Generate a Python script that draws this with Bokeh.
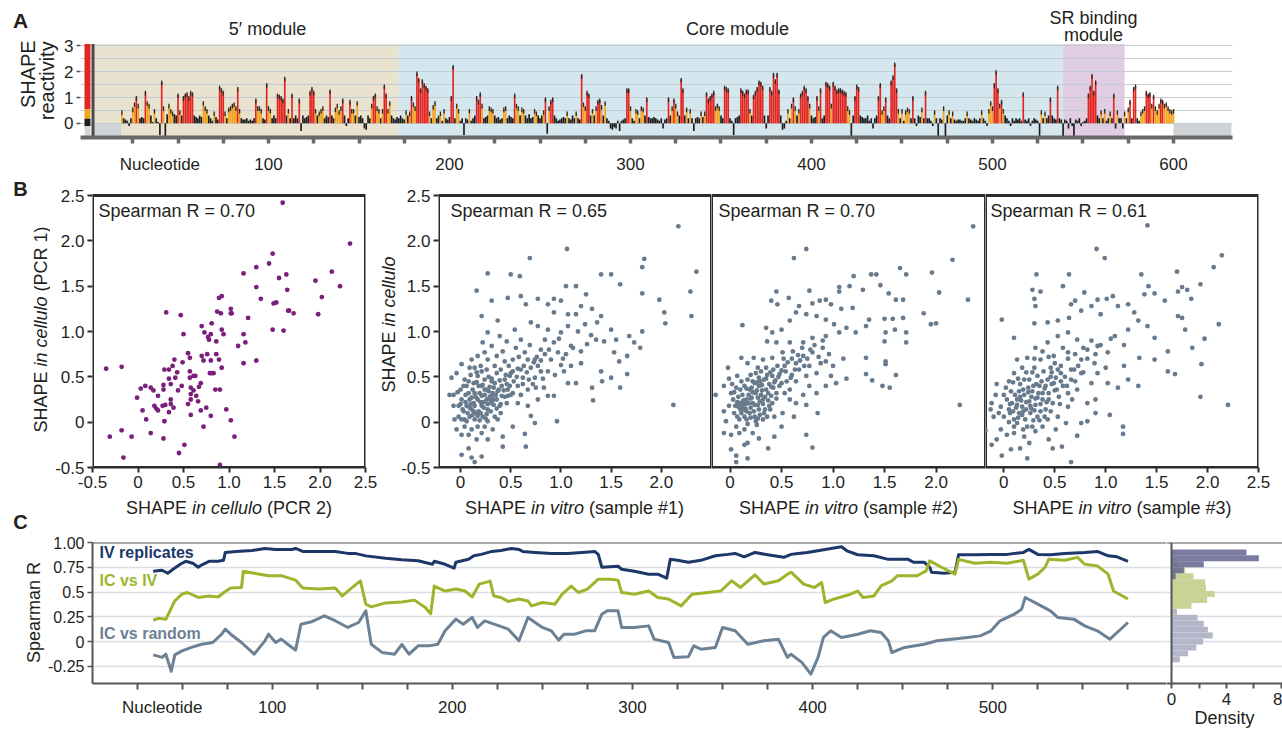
import math
from bokeh.plotting import figure
from bokeh.layouts import row, column
from bokeh.models import Label, Span, FixedTicker, Range1d
from bokeh.embed import file_html
from bokeh.resources import INLINE

# ======================= DATA =======================
# Panel A: SHAPE reactivity per nucleotide, starting at nucleotide 19
first_nt = 19
reactivity = [
    0.45, 0.2, 0.15, 0.1, -0.1, 0.2, 0.55, 0.75, 1.0, 0.7,
    0.2, 0.25, 0.2, 1.2, 0.8, 0.7, 0.3, 0.05, 0.5, 0.2,
    0.05, -0.45, 1.6, 0.6, -0.5, 0.35, 0.7, 0.5, 0.4, 0.35,
    0.3, 1.1, 0.45, 0.3, 1.0, 1.1, 1.15, 1.0, 1.2, 1.15,
    0.3, 0.25, 0.2, 0.3, 0.25, 0.8, 0.6, 0.5, 0.3, 0.2,
    0.1, 0.4, 0.25, 0.15, 1.4, 1.3, 1.2, 0.4, 0.2, 0.55,
    0.6, 0.7, 0.75, 0.6, 1.35, 0.5, 0.2, 0.15, 0.15, 0.2,
    0.1, 0.15, 0.1, 0.2, 0.9, 0.6, 0.6, 0.5, 0.2, 0.15,
    1.5, 0.6, 0.5, 0.2, 0.3, 0.2, 1.1, 1.05, 1.0, 0.9,
    1.75, 0.3, 0.5, 0.2, 1.1, 0.2, 0.3, 0.2, 0.9, -0.3,
    0.3, 0.2, 0.25, 0.3, 1.2, 1.35, 1.2, 0.5, 0.3, 0.4,
    0.5, 0.6, 0.2, 0.3, 0.25, 1.25, 0.3, 0.2, 0.55, 0.7,
    0.45, 0.6, 0.9, 0.3, -0.1, 0.2, 0.85, 0.5, 0.5, 0.3,
    0.8, 0.25, 0.3, 0.2, -0.2, -0.25, 0.3, 0.2, 0.7, 1.0,
    1.1, 0.6, 0.5, 0.2, 0.5, 1.45, 1.1, 0.5, 0.8, 0.3,
    0.2, 0.15, 0.25, 0.2, 0.3, 0.2, 0.15, 0.45, 0.3, 0.4,
    1.0, 0.75, 0.6, 1.95, 1.7, 1.3, 1.65, 1.5, 1.4, 1.3,
    0.4, 0.2, 0.65, 0.8, 0.2, 0.3, 0.4, 0.1, 0.5, 0.2,
    0.15, 0.25, 1.0, 2.2, 0.2, 0.7, 0.5, 0.1, 0.2, -0.45,
    0.2, 0.15, 0.5, 0.1, 0.2, 0.3, 1.0, 0.85, 1.15, 0.7,
    0.2, 0.25, 0.3, 0.6, 0.55, 0.5, 0.3, 0.2, 0.25, 0.15,
    0.2, 0.55, 0.6, 0.2, 0.3, 0.25, 0.2, 1.1, 0.7, 0.6,
    0.3, 0.55, 0.5, 0.3, 0.2, 0.35, 0.2, 0.25, 0.5, 0.4,
    0.3, 0.2, 0.3, 0.45, 0.95, -0.4, 0.6, 0.85, 0.95, 0.3,
    0.2, 0.1, 0.15, 0.2, 0.25, 0.2, 0.4, 0.2, 0.15, 0.3,
    0.2, 0.4, 0.2, 0.15, 1.85, 0.75, 0.6, 1.2, 1.1, 0.3,
    0.5, 0.3, 0.6, 0.85, 0.9, 0.65, 0.3, 0.8, 0.2, 0.1,
    -0.2, -0.25, -0.15, -0.2, 0.1, -0.3, 0.1, 0.15, 0.2, 1.3,
    1.3, 0.6, 0.2, 0.1, 0.5, 0.45, 0.2, 0.6, 0.55, 0.3,
    0.95, 0.25, 0.2, 0.2, 0.25, 0.2, 0.15, 0.1, 0.2, -0.2,
    0.15, 0.2, 0.95, 0.3, 0.6, 0.9, 0.7, 0.4, 0.3, 1.7,
    1.3, 0.3, 0.55, 0.2, 0.5, 0.2, -0.3, 0.2, 0.25, 0.2,
    0.4, 0.25, 0.4, 1.15, 0.9, 1.0, 1.1, 1.2, 0.6, 0.7,
    0.6, 0.3, 0.2, 1.4, 1.35, 1.3, 0.2, 0.1, -0.45, 0.2,
    0.25, 0.3, 1.3, 1.2, 1.1, 1.25, 1.25, 0.5, 0.3, 1.05,
    1.2, 1.35, 1.6, 1.55, 1.4, 0.3, -0.2, 0.3, 1.35, 1.2,
    1.9, 1.65, 1.9, 1.25, 0.3, -0.25, -0.2, 0.1, 0.5, 0.2,
    0.7, 0.95, 0.6, 0.3, 0.5, 1.1, 1.2, 1.4, 1.3, 1.0,
    0.7, 0.3, 0.2, 0.25, 1.0, 0.6, 1.3, 0.2, 0.3, 1.55,
    1.5, 1.4, 0.7, 1.55, 1.4, 1.25, 1.3, 1.3, 1.25, 1.2,
    1.15, 0.6, 0.45, -0.5, 0.3, 1.0, 1.45, 1.35, 0.3, 0.25,
    0.2, 0.2, 0.3, 0.1, 0.2, -0.2, 0.2, 0.3, 1.0, 1.5,
    0.45, 0.6, 0.95, 0.3, 0.2, 1.6, 1.8, 2.3, 1.3, 0.5,
    0.2, 0.5, 0.1, 0.45, 0.55, 0.5, 0.2, 1.0, 0.2, -0.1,
    0.3, 0.25, 0.55, 0.2, 1.2, 0.2, 0.2, 0.1, -0.1, 0.45,
    0.2, -0.5, 0.2, 0.15, 0.6, -0.5, 0.3, 0.45, 0.2, 0.4,
    0.15, 0.1, 0.15, 0.15, 0.1, 0.1, 0.2, 0.4, 0.2, 0.15,
    0.1, 0.2, 0.15, 0.1, 0.2, 0.45, 0.2, 0.1, -0.1, 0.5,
    0.8, 0.6, 1.5, 2.0, 1.3, 0.7, 0.85, 0.5, 0.3, 0.2,
    0.1, -0.1, 0.2, 0.1, 0.2, 0.15, 0.2, 0.1, 1.15, 0.15,
    0.1, 0.2, -0.1, 0.1, 0.2, 0.15, 0.1, -0.5, 0.45, 0.2,
    0.4, 0.2, 0.3, 0.95, 0.3, 0.2, 0.15, 1.4, 0.2, 0.15,
    -0.5, 0.15, 0.1, -0.2, 0.2, -0.1, -0.5, 0.15, 0.1, 0.2,
    -0.1, 0.05, 0.1, 0.2, 1.1, 1.4, 1.85, 1.2, 1.6, 0.3,
    0.2, 0.45, 0.2, 0.5, 0.1, 0.2, 0.4, 0.2, 1.1, -0.2,
    0.45, 0.2, 0.2, -0.2, 0.4, 0.2, 0.55, 0.85, 0.2, 1.35,
    1.45, 0.2, 0.1, 0.4, 0.5, 0.6, 1.2, 1.1, 1.15, 0.7,
    1.05, 0.6, 0.45, 0.7, 0.9, 0.85, 0.7, 0.75, 0.6, 0.5,
    0.45, 0.5,
]
module_names = ["5′ module", "Core module", "SR binding module"]
module_first = [3.5, 172, 539]
module_last = [172, 539, 573]
unmapped_first = [3.5, 600]
unmapped_last = [18.5, 632]
reactive_high = 0.85
reactive_mid = 0.4
a_tick_labels = {40: "Nucleotide", 100: "100", 200: "200", 300: "300", 400: "400", 500: "500", 600: "600"}

# Panel B: scatter pairs (x, y)
pcr_pairs = [(-0.35,0.59),(-0.18,0.61),(-0.31,-0.16),(-0.18,-0.09),(-0.16,-0.39),(-0.07,-0.16),(-0.01,0.27),(0.03,0.37),(0.05,0.13),(0.08,0.40),(0.09,0.03),(0.14,0.38),(0.14,-0.12),(0.17,0.35),(0.18,0.18),(0.20,0.15),(0.22,0.13),(0.22,0.29),(0.27,0.18),(0.28,-0.18),(0.28,0.41),(0.28,0.36),(0.29,0.58),(0.29,0.01),(0.30,0.19),(0.31,1.21),(0.34,0.58),(0.34,0.48),(0.34,0.11),(0.36,0.20),(0.36,0.25),(0.36,0.42),(0.38,0.62),(0.39,0.16),(0.41,0.49),(0.40,0.69),(0.43,0.55),(0.44,0.35),(0.45,-0.34),(0.47,1.18),(0.48,0.40),(0.49,0.66),(0.50,0.97),(0.51,-0.25),(0.55,0.76),(0.55,0.20),(0.57,0.71),(0.57,0.49),(0.57,0.56),(0.58,0.31),(0.58,0.08),(0.58,0.38),(0.58,0.25),(0.61,0.35),(0.61,0.51),(0.63,0.51),(0.64,0.29),(0.66,0.23),(0.67,0.39),(0.69,0.43),(0.69,0.13),(0.70,1.06),(0.70,0.73),(0.72,-0.05),(0.72,0.68),(0.73,0.99),(0.75,0.16),(0.76,0.75),(0.77,0.94),(0.78,0.91),(0.79,0.54),(0.80,0.68),(0.80,0.07),(0.80,0.97),(0.81,1.09),(0.81,0.54),(0.83,0.54),(0.85,0.36),(0.86,0.75),(0.86,0.89),(0.87,1.22),(0.89,1.37),(0.89,0.69),(0.90,0.36),(0.90,-0.47),(0.91,1.20),(0.92,1.39),(0.92,1.02),(0.92,0.60),(0.94,0.97),(0.97,0.14),(1.02,1.25),(1.02,1.20),(1.02,0.02),(1.03,1.20),(1.06,-0.16),(1.10,0.84),(1.16,0.97),(1.16,0.65),(1.16,1.64),(1.18,0.88),(1.21,1.15),(1.30,1.71),(1.30,1.49),(1.30,0.68),(1.35,1.36),(1.44,1.75),(1.48,1.86),(1.48,1.02),(1.49,1.31),(1.52,1.32),(1.55,1.59),(1.59,2.42),(1.60,1.01),(1.63,1.63),(1.64,1.46),(1.65,1.23),(1.66,1.23),(1.71,1.20),(1.95,1.56),(1.98,1.19),(2.02,1.38),(2.13,1.66),(2.22,1.50),(2.33,1.97)]

vitro1_pairs = [(1.06,1.91),(0.69,1.81),(2.17,2.16),(2.35,1.66),(1.83,1.80),(1.81,1.71),(1.50,1.63),(1.59,1.52),(2.29,1.44),(2.30,1.17),(1.98,1.35),(2.03,1.21),(2.04,1.09),(2.12,0.19),(1.81,1.42),(1.81,1.00),(1.79,0.82),(0.27,1.64),(0.50,1.63),(0.59,1.61),(0.16,1.45),(0.31,1.34),(0.47,1.37),(0.60,1.39),(0.65,1.30),(0.77,1.36),(0.87,1.30),(0.93,1.36),(1.00,1.34),(1.05,1.50),(1.15,1.50),(1.25,1.41),(0.93,1.21),(1.07,1.19),(1.15,1.19),(1.20,1.28),(1.31,1.25),(1.36,1.10),(1.40,1.17),(1.40,1.63),(1.24,1.08),(1.07,1.06),(1.17,1.00),(1.00,0.99),(0.87,1.02),(0.70,1.10),(0.77,1.06),(0.54,1.02),(0.37,1.12),(0.21,1.17),(0.27,0.99),(0.39,0.95),(0.22,0.88),(0.42,0.78),(0.55,0.82),(0.69,0.85),(0.80,0.80),(0.93,0.88),(0.97,0.77),(1.10,0.84),(1.26,0.86),(1.35,0.91),(1.43,0.89),(1.53,0.77),(1.58,0.67),(1.66,0.73),(1.40,0.56),(1.50,0.49),(1.59,0.38),(1.66,0.53),(1.31,0.38),(1.32,0.24),(1.41,0.45),(1.07,0.43),(1.15,0.43),(1.00,0.63),(0.87,0.56),(0.77,0.62),(0.67,0.69),(0.57,0.59),(0.50,0.54),(0.62,0.49),(0.72,0.42),(0.83,0.38),(0.93,0.29),(0.87,0.29),(0.96,0.01),(0.77,0.25),(0.67,0.18),(0.70,0.07),(0.74,-0.01),(0.64,-0.13),(0.65,-0.27),(0.42,-0.16),(0.42,-0.27),(0.52,-0.05),(0.57,0.21),(0.47,0.29),(0.37,0.34),(0.31,0.45),(0.21,0.56),(0.11,0.69),(0.09,0.60),(0.01,0.64),(-0.04,0.54),(-0.09,0.49),(-0.11,0.30),(-0.07,0.18),(-0.06,0.03),(-0.04,-0.08),(0.01,-0.14),(0.08,-0.14),(0.01,-0.36),(0.11,-0.39),(0.14,-0.44),(0.08,-0.29),(0.16,-0.19),(0.21,-0.38),(0.27,-0.19),(0.21,-0.12),(0.24,-0.05),(0.27,0.01),(-0.02,0.06),(0.03,0.12),(0.06,0.18),(0.04,0.03),(0.09,0.06),(0.11,0.14),(0.13,0.21),(0.14,0.03),(0.16,0.10),(0.17,0.25),(0.19,0.32),(0.21,0.18),(0.22,0.06),(0.24,0.36),(0.26,0.25),(0.27,0.14),(0.29,0.39),(0.31,0.21),(0.32,0.32),(0.34,0.06),(0.36,0.25),(0.39,0.18),(0.41,0.40),(0.44,0.47),(0.46,0.21),(0.49,0.40),(0.52,0.32),(0.06,0.40),(0.08,0.32),(0.01,0.25),(0.04,0.47),(0.13,0.43),(0.17,0.51),(0.24,0.47),(0.36,0.54),(0.14,0.60),(0.27,0.69),(0.17,-0.05),(0.11,-0.08),(0.32,-0.08),(0.37,0.03),(0.04,-0.05),(-0.02,0.18),(-0.07,0.30),(0.34,0.43),(0.09,0.25),(0.14,0.32),(0.21,0.29),(0.06,0.01),(0.01,0.03),(0.21,0.40),(0.31,0.29),(0.14,0.18),(0.41,0.29),(0.49,0.51),(0.57,0.40),(0.60,0.30),(0.67,0.36),(0.74,0.49),(0.80,0.56),(0.64,0.77),(0.52,0.69),(0.44,0.67),(0.36,0.73),(0.31,0.84),(0.24,0.77),(0.17,0.73),(0.46,0.89),(0.60,0.91),(0.84,0.91),(0.90,0.69),(1.05,0.75),(1.20,0.65),(1.20,0.78),(1.30,0.96),(1.50,1.02),(1.55,0.91),(1.68,0.95),(1.73,0.88),(1.12,0.82),(1.03,0.56),(0.74,0.69),(0.12,0.08),(0.18,0.12),(0.23,0.16),(0.26,0.09),(0.30,0.12),(0.33,0.19),(0.20,0.22),(0.15,0.28),(0.24,0.30),(0.28,0.34),(0.10,0.20),(0.07,0.10),(0.19,0.02),(0.25,0.04),(0.30,0.24),(0.35,0.30),(0.38,0.36),(0.22,0.41),(0.12,0.36),(0.05,0.30),(0.28,0.50),(0.40,0.10),(0.44,0.28),(0.47,0.36),(0.33,0.38),(0.16,0.44),(0.10,0.52),(0.26,0.58),(0.02,0.14),(0.00,0.36),
    (0.05,0.22),(0.09,0.16),(0.13,0.12),(0.17,0.07),(0.20,0.10),(0.23,0.22),(0.27,0.20),(0.29,0.28),(0.33,0.25),(0.36,0.15),(0.40,0.20),(0.43,0.35),(0.46,0.42),(0.50,0.30),(0.53,0.45),(0.56,0.50),(0.60,0.58),(0.63,0.62),(0.66,0.55),(0.70,0.60),(0.73,0.66),(0.76,0.72),(0.80,0.68),(0.84,0.75),(0.88,0.80),(0.58,0.72),(0.48,0.62),(0.40,0.58),(0.34,0.62),(0.20,0.62),(0.16,0.55),(0.08,0.45),(0.03,0.40),(-0.03,0.33),(0.00,0.20),(0.11,0.27),(0.18,0.40),(0.26,0.36),(0.31,0.48),(0.39,0.46),(0.45,0.52),(0.52,0.56),(0.62,0.42),(0.68,0.47),(0.75,0.38),(0.82,0.48),(0.94,0.52),(1.02,0.70),(1.10,0.62),(0.98,0.92)]

vitro2_pairs = [(0.74,1.91),(0.62,1.81),(2.36,2.16),(2.16,1.79),(1.96,1.65),(1.65,1.70),(1.71,1.63),(1.37,1.63),(1.42,1.63),(1.20,1.61),(2.03,1.43),(2.31,1.35),(1.88,1.20),(1.95,1.08),(2.00,1.09),(2.23,0.19),(1.29,1.46),(1.46,1.51),(1.54,1.42),(1.61,1.35),(1.68,1.35),(1.06,1.49),(1.16,1.50),(1.06,1.44),(0.93,1.35),(0.87,1.34),(0.77,1.45),(0.57,1.37),(0.45,1.44),(0.40,1.34),(0.46,1.30),(0.67,1.28),(0.80,1.31),(0.98,1.30),(1.08,1.25),(1.19,1.26),(1.35,1.13),(1.50,1.14),(1.58,1.14),(1.68,1.15),(1.71,0.99),(1.60,1.02),(1.51,0.99),(1.50,0.89),(1.71,0.88),(1.32,1.06),(1.22,0.99),(1.13,1.04),(1.01,1.08),(0.93,1.13),(0.84,1.17),(0.74,1.19),(0.64,1.21),(0.58,1.12),(0.50,1.02),(0.41,0.99),(0.35,1.04),(0.12,1.07),(0.36,0.89),(0.45,0.88),(0.58,0.88),(0.71,0.88),(0.80,0.93),(0.93,0.95),(1.06,0.99),(0.90,0.82),(0.80,0.77),(0.71,0.73),(0.61,0.78),(0.51,0.77),(0.41,0.71),(0.32,0.69),(0.23,0.71),(0.11,0.71),(0.17,0.65),(1.32,0.71),(1.51,0.67),(1.51,0.64),(1.61,0.52),(0.98,0.51),(1.03,0.43),(0.93,0.40),(1.13,0.48),(1.32,0.53),(1.38,0.46),(1.48,0.40),(1.55,0.38),(0.84,0.54),(0.74,0.51),(0.64,0.45),(0.77,0.40),(0.71,0.30),(0.84,0.32),(0.74,0.19),(0.85,0.10),(0.64,0.21),(0.62,0.06),(0.58,0.36),(0.54,0.56),(0.50,0.43),(0.45,0.32),(0.41,0.21),(0.51,0.10),(0.50,-0.05),(0.43,-0.16),(0.37,-0.29),(0.74,-0.14),(0.80,-0.28),(0.28,-0.18),(0.22,-0.12),(0.17,-0.23),(0.14,-0.25),(0.17,-0.40),(0.06,-0.37),(0.06,-0.44),(0.01,-0.30),(0.01,-0.14),(-0.06,-0.12),(-0.04,0.01),(-0.06,0.12),(-0.14,0.30),(-0.06,0.40),(-0.01,0.48),(-0.02,0.60),(0.07,0.51),(0.06,0.38),(0.03,0.25),(0.04,0.10),(0.09,0.03),(0.14,-0.08),(0.09,-0.12),(0.12,0.18),(0.16,0.25),(0.19,0.10),(0.22,0.21),(0.25,0.32),(0.28,0.14),(0.32,0.25),(0.35,0.36),(0.38,0.18),(0.24,0.06),(0.32,0.03),(0.16,0.03),(0.09,0.21),(0.19,0.36),(0.24,0.43),(0.28,0.40),(0.33,0.47),(0.38,0.42),(0.41,0.51),(0.14,0.40),(0.17,0.47),(0.25,0.54),(0.35,0.60),(0.46,0.62),(0.12,0.30),(0.20,0.16),(0.27,0.27),(0.32,0.20),(0.40,0.29),(0.11,0.10),(0.17,-0.02),(0.25,0.01),(0.36,0.06),(0.43,0.06),(0.06,-0.05),(-0.01,0.18),(0.01,0.32),(0.28,0.49),(0.53,0.32),(0.58,0.25),(0.59,0.49),(0.67,0.58),(0.64,0.65),(0.77,0.62),(0.88,0.65),(0.93,0.67),(0.10,0.14),(0.15,0.20),(0.20,0.26),(0.23,0.12),(0.27,0.19),(0.30,0.30),(0.18,0.30),(0.13,0.24),(0.21,0.38),(0.26,0.44),(0.08,0.28),(0.05,0.18),(0.14,0.06),(0.29,0.08),(0.34,0.14),(0.37,0.24),(0.42,0.38),(0.30,0.56),(0.20,0.52),(0.11,0.45),(0.02,0.42),(0.44,0.46),(0.48,0.53),(0.39,0.55),(0.16,0.12),(0.22,0.33),(0.31,0.41),(0.07,0.06),(0.26,-0.03),(0.35,0.48),
    (0.08,0.17),(0.12,0.22),(0.15,0.15),(0.18,0.21),(0.21,0.27),(0.24,0.19),(0.26,0.35),(0.29,0.23),(0.31,0.35),(0.34,0.28),(0.37,0.32),(0.40,0.39),(0.43,0.44),(0.47,0.50),(0.50,0.57),(0.53,0.62),(0.56,0.66),(0.60,0.70),(0.63,0.58),(0.68,0.68),(0.72,0.62),(0.75,0.70),(0.78,0.80),(0.82,0.85),(0.86,0.72),(0.60,0.52),(0.55,0.45),(0.48,0.40),(0.45,0.26),(0.39,0.14),(0.33,0.10),(0.27,0.04),(0.20,0.05),(0.13,0.14),(0.07,0.22),(0.04,0.33),(0.10,0.36),(0.16,0.37),(0.22,0.45),(0.29,0.45),(0.36,0.52),(0.42,0.58),(0.52,0.70),(0.66,0.74),(0.70,0.82),(0.90,0.90),(0.96,0.75),(1.00,0.62),(1.10,0.70),(0.27,0.60)]

vitro3_pairs = [(1.41,2.17),(0.91,1.91),(0.99,1.81),(2.14,1.84),(2.06,1.71),(0.32,1.63),(0.64,1.63),(1.35,1.63),(1.70,1.66),(1.93,1.52),(2.11,1.08),(1.97,0.92),(2.20,0.19),(1.93,0.28),(1.94,0.64),(1.85,0.82),(1.42,1.50),(1.75,1.49),(1.71,1.44),(1.80,1.46),(1.84,1.36),(1.58,1.34),(1.48,1.42),(1.38,1.41),(1.07,1.39),(1.01,1.36),(0.92,1.35),(0.79,1.43),(0.70,1.34),(0.66,1.30),(0.58,1.50),(0.36,1.44),(0.28,1.46),(0.30,1.36),(0.31,1.28),(-0.02,1.13),(0.10,0.93),(0.30,1.09),(0.43,1.10),(0.53,1.12),(0.64,1.15),(0.76,1.23),(0.86,1.28),(0.95,1.19),(1.12,1.28),(1.22,1.30),(1.28,1.21),(1.32,1.12),(1.41,1.06),(1.48,0.93),(1.61,0.78),(1.68,0.53),(1.61,0.56),(1.71,1.17),(1.78,1.02),(1.75,1.15),(1.48,0.69),(1.33,0.71),(1.32,0.40),(1.18,0.62),(1.22,0.47),(1.12,0.38),(1.02,0.43),(1.18,0.85),(1.09,0.95),(1.22,1.02),(1.02,0.77),(0.92,0.84),(0.82,0.80),(0.72,0.91),(0.63,0.99),(0.53,0.95),(0.43,0.88),(0.31,0.82),(0.23,0.71),(0.13,0.69),(0.36,0.69),(0.49,0.73),(0.63,0.77),(0.76,0.69),(0.89,0.65),(0.92,0.54),(0.86,0.43),(0.76,0.54),(0.66,0.47),(0.56,0.54),(0.46,0.60),(0.63,0.32),(0.72,0.36),(0.82,0.21),(0.90,0.25),(1.04,0.08),(0.90,0.10),(0.82,0.01),(0.76,-0.01),(0.72,-0.15),(0.57,-0.27),(0.48,-0.29),(0.66,-0.44),(0.44,-0.19),(0.51,-0.08),(0.61,-0.01),(1.17,-0.05),(1.17,-0.13),(0.25,-0.23),(0.23,-0.40),(0.16,-0.29),(0.07,-0.30),(-0.02,-0.37),(-0.12,-0.25),(-0.07,-0.19),(-0.18,-0.09),(-0.03,-0.08),(0.03,-0.14),(0.10,-0.12),(0.20,-0.16),(0.31,-0.10),(0.38,-0.05),(0.43,0.03),(0.53,0.06),(0.63,0.17),(-0.12,0.21),(-0.13,0.14),(-0.08,0.30),(-0.07,0.42),(0.00,0.06),(0.05,0.14),(0.08,0.21),(0.10,0.03),(0.13,0.25),(0.15,0.10),(0.18,0.17),(0.20,0.30),(0.21,0.03),(0.25,0.23),(0.26,0.10),(0.28,0.34),(0.31,0.19),(0.33,0.06),(0.35,0.40),(0.38,0.25),(0.41,0.14),(0.44,0.32),(0.48,0.21),(0.49,0.43),(0.54,0.28),(0.58,0.40),(0.43,0.47),(0.33,0.51),(0.25,0.47),(0.16,0.42),(0.07,0.34),(0.03,0.25),(0.10,0.54),(0.18,0.60),(0.30,0.60),(0.39,0.56),(0.51,0.49),(0.67,0.25),(0.69,0.58),(0.13,-0.01),(0.23,-0.05),(-0.03,0.17),(-0.10,0.06),(0.12,0.16),(0.17,0.24),(0.22,0.14),(0.27,0.28),(0.30,0.13),(0.36,0.20),(0.19,0.36),(0.24,0.38),(0.11,0.30),(0.06,0.10),(0.14,0.05),(0.29,0.02),(0.34,0.32),(0.40,0.37),(0.46,0.12),(0.20,0.47),(0.28,0.55),(0.37,0.45),(0.09,0.44),(0.02,0.38),(0.15,0.34),(0.32,0.42),(0.42,0.22),(0.52,0.36),(0.05,0.00),(0.18,0.08),(0.26,0.18),(0.31,0.26),(0.47,0.55),(0.56,0.45),
    (0.06,0.20),(0.09,0.12),(0.13,0.19),(0.16,0.28),(0.19,0.12),(0.22,0.22),(0.24,0.33),(0.27,0.15),(0.29,0.40),(0.33,0.27),(0.36,0.12),(0.38,0.32),(0.41,0.40),(0.44,0.25),(0.46,0.50),(0.50,0.35),(0.53,0.58),(0.56,0.62),(0.60,0.50),(0.63,0.70),(0.66,0.58),(0.70,0.75),(0.73,0.62),(0.78,0.82),(0.82,0.70),(0.86,0.90),(0.90,0.75),(0.95,0.85),(1.00,0.60),(1.05,0.92),(0.58,0.82),(0.50,0.65),(0.44,0.72),(0.38,0.78),(0.30,0.70),(0.22,0.55),(0.14,0.48),(0.05,0.45),(0.00,0.30),(-0.05,0.10),(0.10,-0.05),(0.19,-0.08),(0.28,-0.05),(0.35,0.02),(0.40,0.06),(0.47,0.42),(0.55,0.20),(0.62,0.40),(0.70,0.45),(0.78,0.55)]

spearman_b = ["0.70", "0.65", "0.70", "0.61"]
b_tick_values = [-0.5, 0, 0.5, 1, 1.5, 2, 2.5]
b_tick_labels = ["-0.5", "0", "0.5", "1.0", "1.5", "2.0", "2.5"]

# Panel C: windowed Spearman R along the sequence (nucleotide, R)
iv_replicates = [(34,.71),(39,.72),(42,.69),(45,.73),(49,.78),(52,.81),(56,.79),(59,.75),(61,.775),(65,.81),(70,.81),(73,.82),(74,.90),(80,.91),(89,.92),(96,.94),(102,.93),(111,.93),(113,.94),(117,.91),(126,.91),(135,.91),(142,.89),(146,.89),(152,.865),(163,.84),(172,.825),(181,.815),(189,.78),(190,.81),(196,.78),(201,.74),(202,.80),(209,.83),(212,.866),(216,.88),(222,.91),(227,.92),(233,.94),(237,.93),(239,.91),(246,.90),(255,.89),(264,.89),(272,.90),(279,.91),(281,.88),(283,.75),(292,.76),(294,.73),(301,.71),(309,.68),(314,.68),(319,.64),(321,.83),(325,.82),(331,.80),(338,.82),(346,.866),(353,.88),(357,.89),(362,.855),(368,.90),(375,.876),(384,.85),(388,.88),(392,.89),(397,.90),(407,.93),(416,.957),(419,.916),(425,.876),(434,.866),(442,.83),(453,.83),(456,.80),(462,.80),(465,.75),(466,.70),(473,.69),(479,.70),(481,.876),(490,.876),(499,.88),(508,.88),(517,.90),(520,.93),(525,.88),(532,.876),(540,.89),(551,.90),(558,.91),(564,.866),(569,.855),(575,.81)]
ic_vs_iv = [(34,.215),(37,.235),(41,.225),(46,.41),(50,.48),(53,.495),(59,.445),(65,.46),(70,.45),(74,.505),(77,.54),(83,.546),(84,.71),(90,.69),(98,.665),(105,.665),(113,.62),(117,.54),(126,.53),(135,.54),(139,.46),(144,.54),(149,.613),(152,.377),(155,.35),(163,.39),(172,.40),(179,.418),(185,.344),(188,.28),(190,.56),(196,.51),(202,.53),(207,.51),(211,.45),(215,.58),(221,.61),(223,.46),(227,.445),(231,.405),(237,.43),(242,.41),(244,.36),(250,.394),(257,.377),(261,.478),(266,.56),(270,.495),(275,.53),(281,.63),(287,.63),(292,.62),(294,.495),(301,.478),(309,.51),(314,.445),(320,.43),(327,.36),(333,.478),(342,.495),(349,.51),(355,.613),(360,.546),(368,.674),(373,.58),(381,.613),(386,.68),(388,.70),(395,.58),(401,.546),(405,.596),(407,.394),(412,.43),(421,.478),(425,.51),(428,.445),(434,.46),(438,.563),(444,.613),(447,.664),(458,.664),(463,.714),(465,.815),(471,.755),(479,.68),(481,.83),(490,.79),(499,.80),(508,.79),(517,.82),(520,.63),(525,.68),(529,.75),(531,.83),(540,.82),(547,.85),(551,.78),(558,.764),(564,.68),(567,.51),(575,.43)]
ic_vs_random = [(34,-.135),(39,-.16),(41,-.128),(44,-.30),(46,-.135),(50,-.094),(56,-.054),(61,-.027),(67,-.01),(72,.074),(74,.125),(77,.074),(83,-.01),(90,-.128),(96,.007),(98,.074),(102,-.01),(105,.024),(111,-.06),(113,-.087),(116,.175),(122,.20),(129,.26),(135,.21),(142,.142),(148,.192),(152,.31),(155,-.027),(161,-.11),(168,-.128),(172,-.03),(176,-.128),(181,-.044),(187,-.044),(192,-.027),(196,.108),(202,.226),(206,.175),(211,.243),(214,.142),(218,.209),(226,.158),(231,.125),(237,.007),(242,.243),(250,.142),(255,.108),(259,.014),(262,.074),(268,.074),(274,.108),(279,.108),(283,.276),(286,.31),(292,.31),(294,.142),(301,.142),(309,.158),(312,.024),(320,-.01),(323,-.161),(331,-.155),(334,-.044),(338,-.077),(346,-.06),(350,.142),(357,.108),(364,-.027),(373,.007),(381,.024),(386,-.161),(388,-.128),(394,-.211),(399,-.33),(403,-.161),(406,.041),(410,.108),(416,.041),(425,.074),(432,.108),(438,.091),(442,.007),(444,-.111),(451,-.06),(462,-.027),(469,.007),(477,.024),(486,.041),(493,.057),(499,.108),(504,.209),(512,.276),(516,.327),(518,.445),(525,.377),(532,.31),(536,.243),(545,.226),(551,.158),(558,.108),(565,.024),(569,.091),(575,.192)]
series_names = ["IV replicates", "IC vs IV", "IC vs random"]
c_tick_labels = {39: "Nucleotide", 100: "100", 200: "200", 300: "300", 400: "400", 500: "500"}
c_y_ticks = [-0.25, 0, 0.25, 0.5, 0.75, 1.0]
c_y_labels = ["-0.25", "0", "0.25", "0.5", "0.75", "1.00"]

# Panel C side histogram (Spearman R bin centres, densities)
hist_bins = [-0.18, -0.12, -0.06, 0.0, 0.06, 0.12, 0.18, 0.24, 0.30, 0.36, 0.42, 0.48, 0.54, 0.60, 0.66, 0.72, 0.78, 0.84, 0.90]
dens_random = [0.6, 1.2, 1.8, 2.3, 3.0, 2.65, 2.35, 1.9, 0.4, 0, 0, 0, 0, 0, 0, 0, 0, 0, 0]
dens_ic_iv = [0, 0, 0, 0, 0, 0, 0, 0, 0, 1.45, 2.6, 3.15, 2.5, 2.45, 1.6, 1.0, 0.5, 0.1, 0]
dens_iv = [0, 0, 0, 0, 0, 0, 0, 0, 0, 0, 0, 0, 0, 0, 0.3, 0.9, 2.35, 6.35, 5.45]
hist_bin_width = 0.06
density_ticks = {0: "0", 2: "", 4: "4", 6: "", 8: "8"}

# ======================= STYLE / HELPERS =======================
FONT = "Liberation Sans"
INK = "#231f20"
RED, ORANGE, BLACK = "#e4251f", "#f5a31c", "#1d1d1d"
MODULE_FILL = ["#e9e2cf", "#d4e7ee", "#e0cde3"]
UNMAPPED = "#cfd3d6"
PURPLE = "#7a1f7c"
SLATE = "#687b8d"
NAVY, OLIVE, GREYBLUE = "#1c3768", "#9cb52c", "#6d8194"
H_IV, H_ICIV, H_RAND = "#62648f", "#c9d396", "#b3b7c9"
AXIS_GREY = "#555555"
FRAME = "#2b2b2b"

ARIAL = {' ': 278, 'S': 667, 'H': 722, 'A': 667, 'P': 667, 'E': 667, 'i': 222, 'n': 556,
         'c': 500, 'e': 556, 'l': 222, 'u': 556, 'o': 556, 'v': 500, 't': 278, 'r': 333,
         '(': 333, ')': 333, 'C': 722, 'R': 722, '#': 556, 's': 500, 'a': 556, 'm': 833,
         'p': 556, '.': 278, '=': 584, '-': 333}


def tw(s, size):
    return sum(ARIAL.get(ch, 556) for ch in s) * size / 1000.0


class Geo:
    """Page-pixel <-> data mapping of one figure's frame."""
    def __init__(s, left, top, w, h, bl, br, bt, bb, xr, yr):
        s.w, s.h, s.bl, s.br, s.bt, s.bb, s.xr, s.yr = w, h, bl, br, bt, bb, xr, yr
        s.fl, s.fr = left + bl, left + w - br
        s.ft, s.fb = top + bt, top + h - bb

    def x(s, X):
        return s.xr[0] + (X - s.fl) * (s.xr[1] - s.xr[0]) / (s.fr - s.fl)

    def y(s, Y):
        return s.yr[0] + (s.fb - Y) * (s.yr[1] - s.yr[0]) / (s.fb - s.ft)


def make(g, **kw):
    p = figure(width=g.w, height=g.h, x_range=Range1d(*g.xr), y_range=Range1d(*g.yr),
               min_border_left=g.bl, min_border_right=g.br, min_border_top=g.bt,
               min_border_bottom=g.bb, output_backend="svg", toolbar_location=None, **kw)
    p.background_fill_color = "white"
    p.border_fill_color = "white"
    return p


def make_strip(left, top, w, h, bt=0, bb=0):
    # text-only figure; its frame is aligned with the neighbours in the same row
    g = Geo(left, top, w, h, 0, 0, bt, bb, (0, w), (h - bb, bt))
    p = make(g, x_axis_location=None, y_axis_location=None)
    p.outline_line_color = None
    p.xgrid.visible = False
    p.ygrid.visible = False
    return p, g


def put(p, g, X, Y, text, size, color=INK, style="normal", align="center", angle=0.0):
    p.add_layout(Label(x=g.x(X), y=g.y(Y), text=text, text_font=FONT,
                       text_font_size=f"{size}px", text_font_style=style, text_color=color,
                       text_align=align, text_baseline="middle", angle=angle))


def rich(p, g, pieces, Xc, Yc, size, vertical=False):
    sp = tw(" ", size)
    widths = [tw(t, size) for t, _ in pieces]
    total = sum(widths) + sp * (len(pieces) - 1)
    pos = -total / 2
    for (t, it), wdt in zip(pieces, widths):
        if vertical:
            X, Y = Xc, Yc - pos
        else:
            X, Y = Xc + pos, Yc
        put(p, g, X, Y, t, size, style="italic" if it else "normal", align="left",
            angle=math.pi / 2 if vertical else 0.0)
        pos += wdt + sp


def style_axis(ax, size=17, tick_w=2, tick_out=5, color=FRAME, line_w=2, standoff=3):
    ax.axis_line_color = color
    ax.axis_line_width = line_w
    ax.major_tick_line_color = color
    ax.major_tick_line_width = tick_w
    ax.major_tick_out = tick_out
    ax.major_tick_in = 0
    ax.minor_tick_line_color = None
    ax.major_label_text_font = FONT
    ax.major_label_text_font_size = f"{size}px"
    ax.major_label_text_color = INK
    ax.major_label_standoff = standoff


# ======================= PANEL A (y 0..176) =======================
sA, sgA = make_strip(0, 0, 60, 176, bt=0, bb=31)
put(sA, sgA, 20, 21, "A", 21, style="bold")
put(sA, sgA, 27, 78, "SHAPE", 20, angle=math.pi / 2)
put(sA, sgA, 46, 85, "reactivity", 20, angle=math.pi / 2)

gA = Geo(60, 0, 1222, 176, 20, 50, 0, 31, (-3.87, 632.6), (-0.549, 4.762))
pA = make(gA)
pA.outline_line_color = None
pA.xgrid.visible = False
pA.ygrid.ticker = FixedTicker(ticks=[0, 0.5, 1, 1.5, 2, 2.5, 3])
pA.ygrid.grid_line_color = "#c3cbd3"
pA.ygrid.grid_line_width = 1.2
a_top = 3.077
pA.quad(left=module_first, right=module_last, bottom=gA.yr[0], top=a_top,
        fill_color=MODULE_FILL, line_color=None, level="image")
pA.quad(left=unmapped_first, right=unmapped_last, bottom=gA.yr[0], top=0,
        fill_color=UNMAPPED, line_color=None, level="image")
kx0, kx1 = gA.x(84), gA.x(90)
pA.quad(left=[kx0] * 4, right=[kx1] * 4, top=[a_top, 0.55, 0.18, -0.11],
        bottom=[0.55, 0.18, -0.11, -0.48], fill_color=[RED, ORANGE, BLACK, "#d3d6d9"],
        line_color=None)
pA.segment(x0=[gA.x(92.5)], x1=[gA.x(92.5)], y0=[gA.yr[0]], y1=[a_top],
           line_color="#4a4a4a", line_width=3)

nts = list(range(first_nt, first_nt + len(reactivity)))
bar_colors = [RED if v >= reactive_high else (ORANGE if v >= reactive_mid else BLACK) for v in reactivity]
pA.vbar(x=nts, top=reactivity, bottom=0, width=0.92, fill_color=bar_colors, line_color=None)
cap_x = [n for n, v in zip(nts, reactivity) if v >= reactive_mid]
cap_v = [v for v in reactivity if v >= reactive_mid]
pA.segment(x0=cap_x, x1=cap_x, y0=[v - 0.12 for v in cap_v], y1=[v + 0.06 for v in cap_v],
           line_color="#2a2a2a", line_width=1.3)

put(pA, gA, 267, 30, module_names[0], 18)
put(pA, gA, 737, 30, module_names[1], 18)
put(pA, gA, 1093, 19, "SR binding", 18)
put(pA, gA, 1093, 37, "module", 18)

xa = pA.xaxis[0]
style_axis(xa, size=17, tick_w=4, tick_out=7, color="#686868", line_w=4, standoff=10)
xa.ticker = FixedTicker(ticks=sorted(a_tick_labels), minor_ticks=list(range(25, 601, 25)))
xa.major_label_overrides = dict(a_tick_labels)
xa.major_tick_line_color = None
xa.minor_tick_line_color = "#686868"
xa.minor_tick_line_width = 3.5
xa.minor_tick_out = 6
xa.minor_tick_in = 0
ya = pA.yaxis[0]
style_axis(ya, size=17, tick_w=1.5, tick_out=4, color=AXIS_GREY)
ya.axis_line_color = None
ya.ticker = FixedTicker(ticks=[0, 1, 2, 3])

# ======================= PANEL B (y 176..496) =======================
# frames run from the row top (176) so that the letter B fits; the plot box is drawn at -0.5..2.5
b_ytop = 2.5 + 19 / (272 / 3.0)
sB1, sgB1 = make_strip(0, 176, 50, 320, bt=0, bb=29)
put(sB1, sgB1, 20, 188, "B", 20, style="bold")
rich(sB1, sgB1, [("SHAPE", False), ("in cellulo", True), ("(PCR 1)", False)], 40, 329, 18, vertical=True)
sB2, sgB2 = make_strip(378, 176, 20, 320, bt=0, bb=29)
rich(sB2, sgB2, [("SHAPE", False), ("in cellulo", True)], 388, 324, 18, vertical=True)

gBs = [Geo(50, 176, 328, 320, 42, 13, 0, 29, (-0.5, 2.5), (-0.5, b_ytop)),
       Geo(398, 176, 313, 320, 39, 0, 0, 29, (-0.22, 2.5), (-0.5, b_ytop)),
       Geo(711, 176, 274, 320, 0, 0, 0, 29, (-0.18, 2.48), (-0.5, b_ytop)),
       Geo(985, 176, 297, 320, 0, 24, 0, 29, (-0.18, 2.5), (-0.5, b_ytop))]
b_data = [pcr_pairs, vitro1_pairs, vitro2_pairs, vitro3_pairs]
b_colors = [PURPLE, SLATE, SLATE, SLATE]
b_xticks = [b_tick_values, b_tick_values[1:6], b_tick_values[1:6], b_tick_values[1:]]
b_text_x = [98, 449, 718, 990]
tick_lab = dict(zip(b_tick_values, b_tick_labels))
pBs = []
for i, g in enumerate(gBs):
    p = make(g, y_axis_location=("left" if i < 2 else None))
    p.outline_line_color = None
    p.xgrid.visible = False
    p.ygrid.visible = False
    p.quad(left=g.xr[0], right=g.xr[1], bottom=-0.5, top=2.5, fill_color=None,
           line_color=FRAME, line_width=3)
    xs = [a for a, b in b_data[i]]
    ys = [b for a, b in b_data[i]]
    p.scatter(xs, ys, size=4.8, fill_color=b_colors[i], line_color=None)
    ax = p.xaxis[0]
    style_axis(ax)
    ax.ticker = FixedTicker(ticks=b_xticks[i])
    ax.major_label_overrides = {t: tick_lab[t] for t in b_xticks[i]}
    if i < 2:
        ay = p.yaxis[0]
        style_axis(ay)
        ay.axis_line_color = None
        ay.ticker = FixedTicker(ticks=b_tick_values)
        ay.major_label_overrides = dict(tick_lab)
    put(p, g, b_text_x[i], 210, "Spearman R = " + spearman_b[i], 18, align="left")
    pBs.append(p)

# x-axis titles of panel B + letter C (y 496..532)
sBx, sgBx = make_strip(0, 496, 1282, 36)
b_xlabels = [[("SHAPE", False), ("in cellulo", True), ("(PCR 2)", False)],
             [("SHAPE", False), ("in vitro", True), ("(sample #1)", False)],
             [("SHAPE", False), ("in vitro", True), ("(sample #2)", False)],
             [("SHAPE", False), ("in vitro", True), ("(sample #3)", False)]]
for g, pieces in zip(gBs, b_xlabels):
    rich(sBx, sgBx, pieces, (g.fl + g.fr) / 2, 507, 18)
put(sBx, sgBx, 20, 521, "C", 20, style="bold")

# ======================= PANEL C (y 532..732) =======================
sC, sgC = make_strip(0, 532, 45, 200, bt=10, bb=49)
put(sC, sgC, 33, 612, "Spearman R", 18, angle=math.pi / 2)

gC = Geo(45, 532, 1121, 200, 45, 0, 10, 49, (0.3, 596.4), (-0.424, 1.0))
pC = make(gC)
pC.outline_line_color = None
pC.xgrid.visible = False
pC.ygrid.ticker = FixedTicker(ticks=c_y_ticks[:-1])
pC.ygrid.grid_line_color = "#dadee3"
pC.ygrid.grid_line_width = 1.5
pC.add_layout(Span(location=1.0, dimension="width", line_color=AXIS_GREY, line_width=2))
for pts, col in zip([iv_replicates, ic_vs_iv, ic_vs_random], [NAVY, OLIVE, GREYBLUE]):
    pC.line([a for a, b in pts], [b for a, b in pts], line_color=col, line_width=3, line_join="round")
cx = pC.xaxis[0]
style_axis(cx, size=17, tick_w=2, tick_out=6, color=AXIS_GREY, standoff=8)
cx.ticker = FixedTicker(ticks=sorted(c_tick_labels), minor_ticks=list(range(25, 576, 25)))
cx.major_label_overrides = dict(c_tick_labels)
cx.major_tick_line_color = None
cx.minor_tick_line_color = AXIS_GREY
cx.minor_tick_line_width = 2
cx.minor_tick_out = 6
cx.minor_tick_in = 0
cy = pC.yaxis[0]
style_axis(cy, size=16, tick_w=1.5, tick_out=5, color=AXIS_GREY)
cy.ticker = FixedTicker(ticks=c_y_ticks)
cy.major_label_overrides = dict(zip(c_y_ticks, c_y_labels))
put(pC, gC, 97, 552, series_names[0], 16, color=NAVY, style="bold", align="left")
put(pC, gC, 97, 580, series_names[1], 16, color=OLIVE, style="bold", align="left")
put(pC, gC, 97, 633, series_names[2], 16, color=GREYBLUE, style="bold", align="left")

gH = Geo(1166, 532, 116, 200, 0, 0, 10, 49, (-0.364, 8.073), (-0.424, 1.0))
pH = make(gH, y_axis_location=None)
pH.outline_line_color = None
pH.xgrid.visible = False
pH.ygrid.ticker = FixedTicker(ticks=c_y_ticks[:-1])
pH.ygrid.grid_line_color = "#dadee3"
pH.ygrid.grid_line_width = 1.5
pH.hbar(y=hist_bins, left=0, right=dens_random, height=hist_bin_width, fill_color=H_RAND, line_color=None)
pH.hbar(y=hist_bins, left=0, right=dens_ic_iv, height=hist_bin_width, fill_color=H_ICIV, line_color=None)
pH.hbar(y=hist_bins, left=0, right=dens_iv, height=hist_bin_width, fill_color=H_IV, fill_alpha=0.85, line_color=None)
pH.add_layout(Span(location=0, dimension="height", line_color=AXIS_GREY, line_width=2))
pH.add_layout(Span(location=1.0, dimension="width", line_color=AXIS_GREY, line_width=2))
hx = pH.xaxis[0]
style_axis(hx, size=17, tick_w=2, tick_out=5, color=AXIS_GREY, standoff=4)
hx.ticker = FixedTicker(ticks=sorted(density_ticks))
hx.major_label_overrides = dict(density_ticks)
hx.axis_label = "Density"
hx.axis_label_standoff = 0
hx.axis_label_text_font = FONT
hx.axis_label_text_font_size = "18px"
hx.axis_label_text_font_style = "normal"
hx.axis_label_text_color = INK

layout = column(
    row(sA, pA),
    row(sB1, pBs[0], sB2, pBs[1], pBs[2], pBs[3]),
    sBx,
    row(sC, pC, pH),
)
open("out.html", "w").write(file_html(layout, INLINE))
